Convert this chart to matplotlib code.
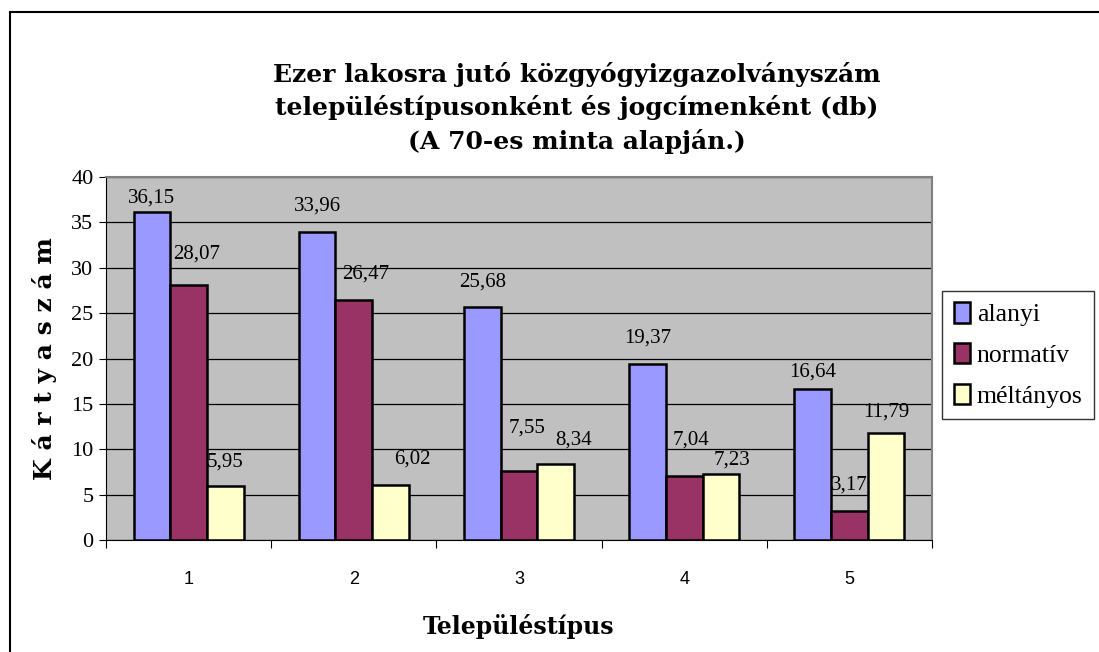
import matplotlib
matplotlib.use("Agg")
import matplotlib.pyplot as plt
import numpy as np
from matplotlib.patches import Rectangle

categories = ["1", "2", "3", "4", "5"]
series_names = ["alanyi", "normatív", "méltányos"]
alanyi = [36.15, 33.96, 25.68, 19.37, 16.64]
normativ = [28.07, 26.47, 7.55, 7.04, 3.17]
meltanyos = [5.95, 6.02, 8.34, 7.23, 11.79]
colors = ["#9999FF", "#993366", "#FFFFCC"]
title = "Ezer lakosra jutó közgyógyizgazolványszám\ntelepüléstípusonként és jogcímenként (db)\n(A 70-es minta alapján.)"

# data-label placement offsets (pixels: dx, height of label centre above bar top)
label_dx = [[0, 0, 0, 0, 0], [8, 12, 8, 7, 0], [0, 22, 18, 11, 0]]
label_dy = [[14, 26, 25, 26, 17], [31, 26, 43, 36, 26], [24, 26, 24, 14, 21]]

W, H = 1099, 652
fig = plt.figure(figsize=(W/100, H/100), dpi=100)

# outer border (cropped on right/bottom)
fig.patches.append(Rectangle((10/W, -0.1), 1.2, (H-12)/H + 0.1, transform=fig.transFigure,
                             fill=False, edgecolor="black", linewidth=1.5))

left, right, top, bottom = 106, 932, 177, 540
ax = fig.add_axes([left/W, 1-bottom/H, (right-left)/W, (bottom-top)/H])
ax.set_facecolor("#C0C0C0")

n = len(categories)
x = np.arange(n)
bw = 1/4.5
data = [alanyi, normativ, meltanyos]
for i, (vals, c, name) in enumerate(zip(data, colors, series_names)):
    pos = x + (i-1)*bw
    ax.bar(pos, vals, width=bw, color=c, edgecolor="black", linewidth=1.8, label=name, zorder=3)
    for j, (p, v) in enumerate(zip(pos, vals)):
        ax.annotate(f"{v:.2f}".replace(".", ","), xy=(p, v),
                    xytext=(label_dx[i][j], label_dy[i][j]), textcoords="offset pixels",
                    ha="center", va="center", fontsize=15, family="Liberation Serif",
                    zorder=4, annotation_clip=False)

ax.set_xlim(-0.5, n-0.5)
ax.set_ylim(0, 40)
ax.set_yticks(range(0, 41, 5))
ax.yaxis.grid(True, color="black", linewidth=0.9, zorder=0)
ax.set_axisbelow(True)
ax.set_xticks(np.arange(-0.5, n, 1), minor=False)
ax.set_xticklabels([])
ax.set_xticks(x, minor=True)
ax.set_xticklabels(categories, minor=True, fontsize=13, family="Liberation Sans")
ax.tick_params(axis="x", which="minor", length=0, pad=22)
ax.tick_params(axis="x", which="major", length=6, direction="out", color="black")
ax.tick_params(axis="y", length=5, labelsize=16, pad=4)
for lab in ax.get_yticklabels():
    lab.set_family("Liberation Serif")
for s in ["top", "right"]:
    ax.spines[s].set_color("#808080")
    ax.spines[s].set_linewidth(1.5)
ax.spines["left"].set_color("black")
ax.spines["bottom"].set_color("black")

ax.set_ylabel("K á r t y a s z á m", fontsize=18, fontweight="bold", family="DejaVu Serif", labelpad=10)
ax.set_xlabel("Településtípus", fontsize=17, fontweight="bold", family="DejaVu Serif", labelpad=19)

fig.text(577/W, 1-108/H, title, ha="center", va="center", fontsize=18, fontweight="bold",
         family="DejaVu Serif", linespacing=1.42)

leg = ax.legend(loc="center left", bbox_to_anchor=(942/W, 1-355/H), bbox_transform=fig.transFigure,
                frameon=True, fancybox=False, edgecolor="black",
                prop={"family": "Liberation Serif", "size": 18.5},
                handlelength=0.65, handleheight=0.85, handletextpad=0.25, labelspacing=0.65,
                borderpad=0.45, borderaxespad=0)
leg.get_frame().set_linewidth(1.0)

fig.savefig("out.png", dpi=100)
